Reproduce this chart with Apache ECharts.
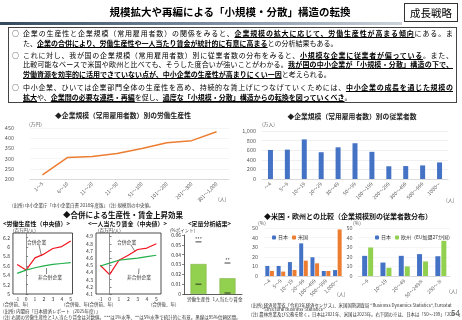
<!DOCTYPE html>
<html>
<head>
<meta charset="utf-8">
<title>規模拡大や再編による「小規模・分散」構造の転換</title>
<script src="https://cdn.jsdelivr.net/npm/echarts@6.0.0/dist/echarts.min.js"></script>
<style>
  body { margin: 0; background: #fff; font-family: "Noto Sans CJK JP", sans-serif; color: #000; }
  #chart { position: absolute; left: 0; top: 0; width: 462px; height: 320px; }
  .ttl { position: absolute; left: 80px; top: 3px; width: 300px; text-align: center; font-size: 10.5px; font-weight: bold; line-height: 18px; white-space: nowrap; }
  .tag { position: absolute; left: 404px; top: 3px; width: 54px; height: 19px; box-sizing: border-box; border: 1px solid #333; text-align: center; font-size: 10.5px; line-height: 17px; }
  .rule { position: absolute; left: 0; top: 22px; width: 402px; height: 3px; background: linear-gradient(to right, #34495f, #7d8ea3 55%, #cdd3db); }
  .box { position: absolute; left: 8px; top: 27px; width: 449px; height: 76px; box-sizing: border-box; border: 1px solid #444; }
  .bl { position: absolute; left: 12px; font-size: 7px; line-height: 9px; }
  .ln { position: absolute; left: 23px; width: 430px; font-size: 7px; line-height: 9px; }
  .ln.j { text-align: justify; text-align-last: justify; }
  .ln b { text-decoration: underline; }
</style>
</head>
<body>
<div id="chart"></div>

<div class="ttl">規模拡大や再編による「小規模・分散」構造の転換</div>
<div class="tag">成長戦略</div>
<div class="rule"></div>
<div class="box"></div>
<div class="bl" style="top:28.5px">○</div>
<div class="ln j" style="top:28.5px">企業の生産性と企業規模（常用雇用者数）の関係をみると、<b>企業規模の拡大に応じて、労働生産性が高まる傾向</b>にある。ま</div>
<div class="ln" style="top:38.5px">た、<b>企業の合併により、労働生産性や一人当たり賃金が統計的に有意に高まる</b>との分析結果もある。</div>
<div class="bl" style="top:50.5px">○</div>
<div class="ln j" style="top:50.5px">これに対し、我が国の企業規模（常用雇用者数）別に従業者数の分布をみると、<b>小規模な企業に従業者が偏っている</b>。また、</div>
<div class="ln j" style="top:60px">比較可能なベースで米国や欧州と比べても、そうした度合いが強いことがわかる。<b>我が国の中小企業が「小規模・分散」構造の下で、</b></div>
<div class="ln" style="top:69.5px"><b>労働資源を効率的に活用できていない点が、中小企業の生産性が高まりにくい一因</b>と考えられる。</div>
<div class="bl" style="top:83px">○</div>
<div class="ln j" style="top:83px">中小企業、ひいては企業部門全体の生産性を高め、持続的な賃上げにつなげていくためには、<b>中小企業の成長を通じた規模の</b></div>
<div class="ln" style="top:92.5px"><b>拡大</b>や、<b>企業間の必要な連携・再編</b>を促し、<b>過度な「小規模・分散」構造からの転換を図っていくべき</b>。</div>

<script>
// 企業規模別の労働生産性（万円）
var prodSizes = ['1～5', '6～10', '11～20', '21～50', '51～100', '101～200', '201～300', '301～1,000'];
var prodValues = [220, 305, 310, 325, 350, 378, 388, 432];

// 企業規模別の従業者数（万人）
var empSizes = ['～4', '5～9', '10～19', '20～29', '30～49', '50～99', '100～199', '200～299', '300～499', '500～999', '1000～'];
var empValues = [605, 612, 825, 558, 660, 745, 566, 265, 270, 283, 345];

// 合併前後（年）
var years = [-1, 0, 1, 2, 3, 4, 5];
var prodMerged = [5.63, 5.51, 5.77, 5.85, 5.97, 6.01, 6.13];
var prodNonMerged = [5.44, 5.51, 5.56, 5.60, 5.63, 5.65, 5.67];
var wageMerged = [4.50, 4.37, 4.57, 4.64, 4.72, 4.74, 4.80];
var wageNonMerged = [4.49, 4.53, 4.57, 4.585, 4.60, 4.62, 4.64];

// 定量分析結果（%ポイント）
var effectCats = ['労働生産性', '1人当たり賃金'];
var effectValues = [0.0305, 0.016];
var effectUpper = [0.053, 0.0315];
var effectLower = [0.010, 0.001];
var effectStars = ['***', '**'];

// 米国との比較（%）
var usSizes = ['～4', '5～9', '10～19', '20～99', '100～499', '500～999', '1,000～'];
var jpVsUs = [10.5, 10.5, 14.5, 34, 19.5, 5.2, 6.2];
var usShare = [5.3, 4.6, 6.3, 16, 13.2, 5.2, 48.5];

// 欧州との比較（%）
var euSizes = ['～9', '10～19', '20～49', '50～249※', '250～※'];
var jpVsEu = [21, 14, 21, 22.8, 20.6];
var euShare = [29.7, 8.6, 10, 15.2, 36.6];

var FONT = '"Noto Sans CJK JP", sans-serif';
var GRAY = '#595959';
var BLUE = '#4472C4', ORANGE = '#ED7D31', GREEN = '#92D050';
var RED = '#F0141E', DGREEN = '#22B04B';

function pairs(xs, ys) {
  return xs.map(function (x, i) { return [x, ys[i]]; });
}

function txt(x, y, s, size, align, bold, color) {
  return {
    type: 'text', x: x, y: y, silent: true,
    style: {
      text: s, fontSize: size, fontFamily: FONT, fontWeight: bold ? 'bold' : 'normal',
      fill: color || '#333', textAlign: align || 'left', textVerticalAlign: 'middle'
    }
  };
}

function arrow(x1, y1, x2, y2) {
  return { type: 'line', silent: true, shape: { x1: x1, y1: y1, x2: x2, y2: y2 }, style: { stroke: '#333', lineWidth: 0.6 } };
}

var lbl = { color: GRAY, fontSize: 5, fontFamily: FONT };
var noLine = { show: false };

var chart = echarts.init(document.getElementById('chart'));
chart.setOption({
  animation: false,
  textStyle: { fontFamily: FONT },
  grid: [
    { left: 30, top: 128, width: 199, height: 51 },
    { left: 262, top: 131, width: 186, height: 48 },
    { left: 11.5, top: 233, width: 61, height: 61, show: true, borderColor: '#222', borderWidth: 0.8 },
    { left: 96, top: 233, width: 65, height: 61, show: true, borderColor: '#222', borderWidth: 0.8 },
    { left: 184, top: 235, width: 58, height: 59 },
    { left: 264, top: 228, width: 79, height: 48 },
    { left: 358.5, top: 228, width: 91.5, height: 48 }
  ],
  legend: [
    { left: 267, top: 230, data: ['日本', '米国'], itemWidth: 4, itemHeight: 4, itemGap: 4,
      textStyle: { fontSize: 5, color: '#333', padding: [0, 0, 0, -3] } },
    { left: 370, top: 230, data: ['日本', '欧州（EU加盟27か国）'], itemWidth: 4, itemHeight: 4, itemGap: 4,
      textStyle: { fontSize: 5, color: '#333', padding: [0, 0, 0, -3] } }
  ],
  xAxis: [
    { gridIndex: 0, type: 'category', data: prodSizes, axisTick: noLine,
      axisLine: { lineStyle: { color: '#d9d9d9' } },
      axisLabel: Object.assign({ rotate: 45, margin: 4, interval: 0 }, lbl) },
    { gridIndex: 1, type: 'category', data: empSizes, axisTick: noLine,
      axisLine: { lineStyle: { color: '#d9d9d9' } },
      axisLabel: Object.assign({ rotate: 45, margin: 4, interval: 0 }, lbl) },
    { gridIndex: 2, type: 'value', min: -1.47, max: 5.2, splitLine: noLine, axisLine: noLine,
      axisTick: { show: false },
      axisLabel: Object.assign({ margin: 3, customValues: years }, lbl, { color: '#333' }) },
    { gridIndex: 3, type: 'value', min: -1.45, max: 5.5, splitLine: noLine, axisLine: noLine,
      axisTick: { show: false },
      axisLabel: Object.assign({ margin: 3, customValues: years }, lbl, { color: '#333' }) },
    { gridIndex: 4, type: 'category', data: effectCats, axisTick: noLine,
      axisLine: { lineStyle: { color: '#333', width: 0.8 } },
      axisLabel: Object.assign({ margin: 3, interval: 0, hideOverlap: false }, lbl, { color: '#333', fontSize: 4.6 }) },
    { gridIndex: 5, type: 'category', data: usSizes, axisTick: noLine,
      axisLine: { lineStyle: { color: '#d9d9d9' } },
      axisLabel: Object.assign({ rotate: 45, margin: 4, interval: 0 }, lbl) },
    { gridIndex: 6, type: 'category', data: euSizes, axisTick: noLine,
      axisLine: { lineStyle: { color: '#d9d9d9' } },
      axisLabel: Object.assign({ rotate: 45, margin: 4, interval: 0 }, lbl) }
  ],
  yAxis: [
    { gridIndex: 0, type: 'value', min: 200, max: 450, interval: 50, axisLine: noLine, axisTick: noLine,
      splitLine: { lineStyle: { color: '#eeeeee', width: 0.6 } },
      axisLabel: Object.assign({ margin: 16 }, lbl, { fontSize: 5.5 }) },
    { gridIndex: 1, type: 'value', min: 0, max: 1000, interval: 200, axisLine: noLine, axisTick: noLine,
      splitLine: { lineStyle: { color: '#e6e6e6', width: 0.6 } },
      axisLabel: Object.assign({ margin: 6, formatter: function (v) { return v.toLocaleString('en-US'); } }, lbl, { fontSize: 5.5 }) },
    { gridIndex: 2, type: 'value', min: 5, max: 6.3, interval: 0.2, axisLine: noLine, splitLine: noLine,
      axisTick: { inside: true, length: 2, lineStyle: { color: '#333', width: 0.6 } },
      axisLabel: Object.assign({ margin: 3, showMaxLabel: false }, lbl, { color: '#333' }) },
    { gridIndex: 3, type: 'value', min: 4.1, max: 4.95, interval: 0.1, axisLine: noLine, splitLine: noLine,
      axisTick: { inside: true, length: 2, lineStyle: { color: '#333', width: 0.6 } },
      axisLabel: Object.assign({ margin: 3, showMaxLabel: false }, lbl, { color: '#333' }) },
    { gridIndex: 4, type: 'value', min: 0, max: 0.06, interval: 0.01, splitLine: noLine,
      axisLine: { show: true, lineStyle: { color: '#333', width: 0.8 } },
      axisTick: { show: true, length: 2, lineStyle: { color: '#333', width: 0.6 } },
      axisLabel: Object.assign({ margin: 3 }, lbl, { color: '#333' }) },
    { gridIndex: 5, type: 'value', min: 0, max: 50, interval: 10, axisLine: noLine, axisTick: noLine,
      splitLine: { lineStyle: { color: '#eeeeee', width: 0.6 } },
      axisLabel: Object.assign({ margin: 6 }, lbl, { fontSize: 5.5 }) },
    { gridIndex: 6, type: 'value', min: 0, max: 50, interval: 10, axisLine: noLine, axisTick: noLine,
      splitLine: { lineStyle: { color: '#eeeeee', width: 0.6 } },
      axisLabel: Object.assign({ margin: 6 }, lbl, { fontSize: 5.5 }) }
  ],
  series: [
    { type: 'line', xAxisIndex: 0, yAxisIndex: 0, data: prodValues, symbol: 'none',
      lineStyle: { color: ORANGE, width: 1.5 } },
    { type: 'bar', xAxisIndex: 1, yAxisIndex: 1, data: empValues, barWidth: 5, itemStyle: { color: BLUE } },
    { type: 'line', name: '合併企業', xAxisIndex: 2, yAxisIndex: 2, data: pairs(years, prodMerged), symbol: 'none',
      lineStyle: { color: RED, width: 1.2 },
      markLine: { silent: true, symbol: 'none', label: { show: false },
        lineStyle: { color: '#777', width: 0.8, type: 'solid' }, data: [{ xAxis: 0 }] } },
    { type: 'line', name: '非合併企業', xAxisIndex: 2, yAxisIndex: 2, data: pairs(years, prodNonMerged), symbol: 'none',
      lineStyle: { color: DGREEN, width: 1.2 } },
    { type: 'line', name: '合併企業', xAxisIndex: 3, yAxisIndex: 3, data: pairs(years, wageMerged), symbol: 'none',
      lineStyle: { color: RED, width: 1.2 },
      markLine: { silent: true, symbol: 'none', label: { show: false },
        lineStyle: { color: '#777', width: 0.8, type: 'solid' }, data: [{ xAxis: 0 }] } },
    { type: 'line', name: '非合併企業', xAxisIndex: 3, yAxisIndex: 3, data: pairs(years, wageNonMerged), symbol: 'none',
      lineStyle: { color: DGREEN, width: 1.2 } },
    { type: 'bar', xAxisIndex: 4, yAxisIndex: 4, data: effectValues, barWidth: 16,
      itemStyle: { color: GREEN, borderColor: '#7aad3c', borderWidth: 0.5 } },
    { type: 'scatter', xAxisIndex: 4, yAxisIndex: 4, data: effectUpper, symbol: 'rect', symbolSize: [6, 1],
      itemStyle: { color: '#111' },
      label: { show: true, position: 'top', distance: 0, fontSize: 5, color: '#111',
        formatter: function (p) { return effectStars[p.dataIndex]; } } },
    { type: 'scatter', xAxisIndex: 4, yAxisIndex: 4, data: effectLower, symbol: 'rect', symbolSize: [6, 1],
      itemStyle: { color: '#111' } },
    { type: 'bar', name: '日本', xAxisIndex: 5, yAxisIndex: 5, data: jpVsUs, barWidth: 4, barGap: '15%',
      itemStyle: { color: BLUE } },
    { type: 'bar', name: '米国', xAxisIndex: 5, yAxisIndex: 5, data: usShare, barWidth: 4,
      itemStyle: { color: ORANGE } },
    { type: 'bar', name: '日本', xAxisIndex: 6, yAxisIndex: 6, data: jpVsEu, barWidth: 5, barGap: '20%',
      itemStyle: { color: BLUE } },
    { type: 'bar', name: '欧州（EU加盟27か国）', xAxisIndex: 6, yAxisIndex: 6, data: euShare, barWidth: 5,
      itemStyle: { color: GREEN } }
  ],
  graphic: [
    txt(123, 115, '◆企業規模（常用雇用者数）別の労働生産性', 6.8, 'center', true, '#222'),
    txt(29, 124, '(万円)', 4.8, 'left', false, GRAY),
    txt(218, 199, '(人)', 5, 'left', false, GRAY),
    txt(12, 205, '(出所) 中小企業庁「中小企業白書 2018年度版」 (注) 規模別の中央値。', 4.5, 'left', false, '#333'),

    txt(352, 116, '◆企業規模（常用雇用者数）別の従業者数', 6.8, 'center', true, '#222'),
    txt(262, 124, '(万人)', 4.8, 'left', false, GRAY),
    txt(446, 200, '(人)', 5, 'left', false, GRAY),

    txt(123, 215, '◆合併による生産性・賃金上昇効果', 7.5, 'center', true, '#111'),
    txt(3, 224, '<労働生産性（中央値）>', 6, 'left', true, '#111'),
    txt(88, 224, '<一人当たり賃金（中央値）>', 6, 'left', true, '#111'),
    txt(188, 224, '<定量分析結果>', 6, 'left', true, '#111'),
    txt(13, 230, '(百万円/人)', 4.5, 'left', false, '#333'),
    txt(98, 230, '(百万円/人)', 4.5, 'left', false, '#333'),
    txt(170, 230, '(%ポイント)', 4.5, 'left', false, '#333'),
    txt(27, 242, '合併企業', 4.8, 'left', false, '#333'),
    arrow(39, 245, 41.5, 256),
    txt(38, 277, '非合併企業', 4.8, 'left', false, '#333'),
    arrow(46.5, 274, 46.5, 268),
    txt(117, 242, '合併企業', 4.8, 'left', false, '#333'),
    arrow(131, 245, 135, 251.5),
    txt(127, 277, '非合併企業', 4.8, 'left', false, '#333'),
    arrow(138.5, 274, 139, 268.5),
    txt(3, 304, '(合併前、年)', 4.5, 'left', false, '#333'),
    txt(64, 304, '(合併後、年)', 4.5, 'left', false, '#333'),
    txt(88, 304, '(合併前、年)', 4.5, 'left', false, '#333'),
    txt(151, 304, '(合併後、年)', 4.5, 'left', false, '#333'),
    txt(3, 311, '(出所) 内閣府「日本経済レポート（2025年度）」', 4.5, 'left', false, '#333'),
    txt(3, 317, '(注) 右図の労働生産性と1人当たり賃金は対数値。***は1%水準、**は5%水準で統計的に有意。黒線は95%信頼区間。', 4.5, 'left', false, '#333'),

    txt(348, 216, '◆米国・欧州との比較（企業規模別の従業者数分布）', 7, 'center', true, '#111'),
    txt(258, 223, '(%)', 5, 'left', false, GRAY),
    txt(353, 223, '(%)', 5, 'left', false, GRAY),
    txt(337, 294, '(人)', 5, 'left', false, GRAY),
    txt(449, 291, '(人)', 5, 'left', false, GRAY),
    txt(251, 305, '(出所) 経済産業省「令和3年経済センサス」、米国国勢調査局 "Business Dynamics Statistics", Eurostat', 4.4, 'left', false, '#333'),
    txt(262, 309.5, '"Structural Business Statistics"', 4.4, 'left', false, '#333'),
    txt(251, 314, '(注) 農林漁業及び公務を除く。日本は2021年、米国は2023年。右下図の※は、日本は「50～199」「200～」', 4.4, 'left', false, '#333'),
    txt(460, 313, '54', 8, 'right', false, '#555')
  ]
});
</script>
</body>
</html>
